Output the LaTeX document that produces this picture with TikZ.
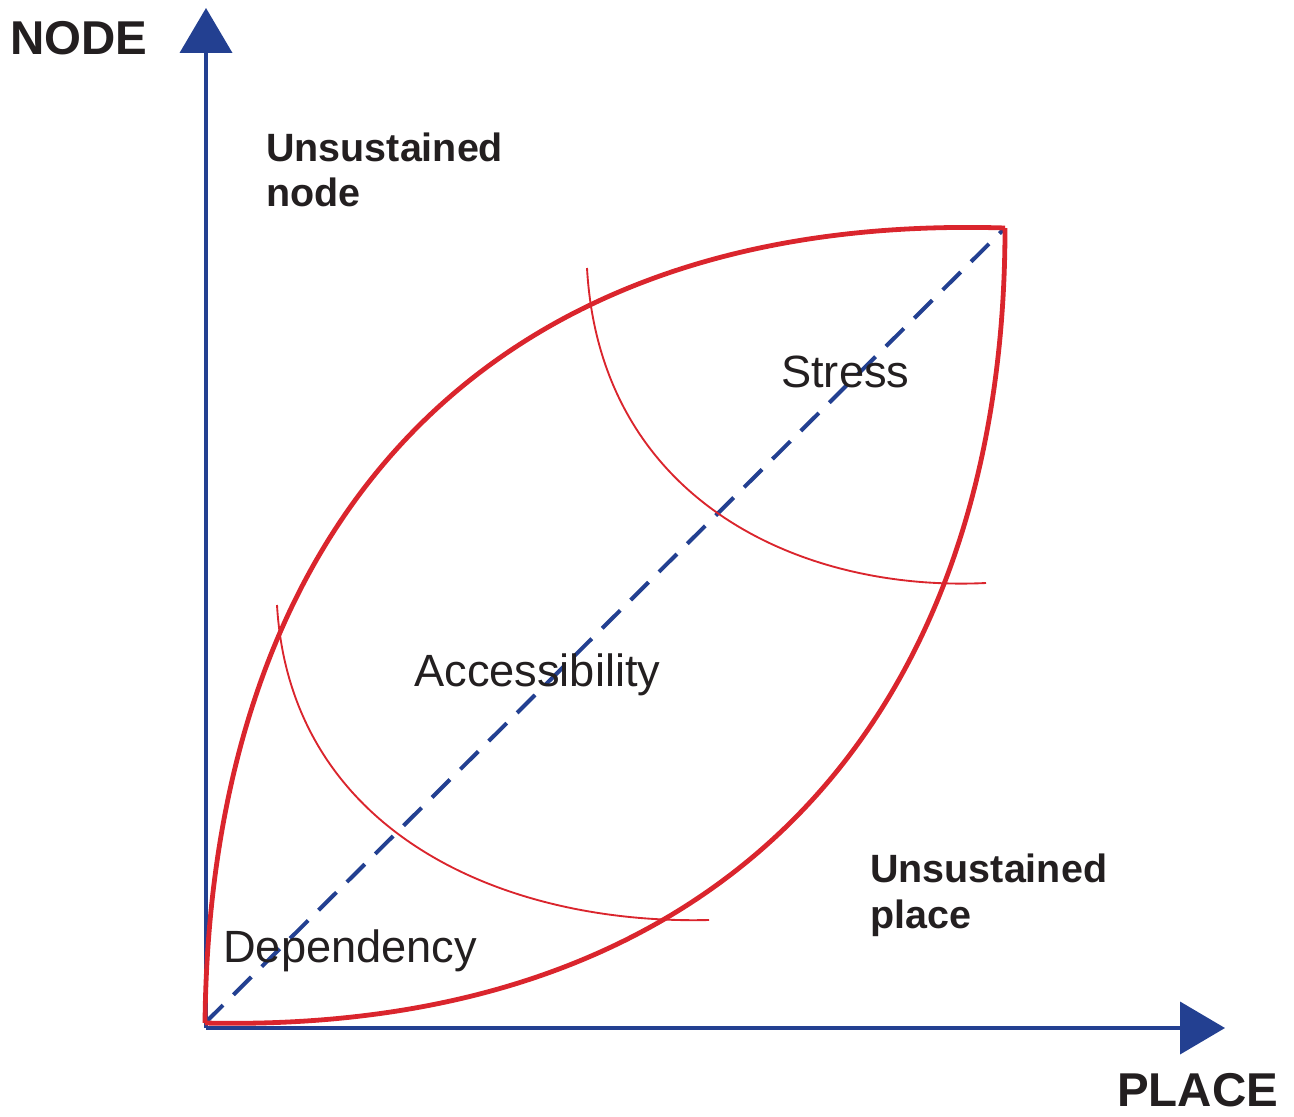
\documentclass[tikz,border=0pt]{standalone}
\usepackage{fontspec}
\setmainfont{Liberation Sans}
\usetikzlibrary{arrows.meta}
\definecolor{navy}{RGB}{35,64,145}
\definecolor{lensred}{RGB}{218,37,45}
\definecolor{ink}{RGB}{35,31,32}
\begin{document}
\begin{tikzpicture}[x=0.75pt,y=-0.75pt,
  axis/.style={draw=navy,line width=3pt,-{Triangle[length=33.75pt,width=39pt]}},
  lens/.style={draw=lensred,line width=3.6pt,line join=round},
  band/.style={draw=lensred,line width=1.4pt},
  diag/.style={draw=navy,line width=3pt,dash pattern=on 19pt off 11pt},
  bigbold/.style={inner sep=0pt,anchor=base west,text=ink,font=\fontsize{35.6}{42}\selectfont\bfseries},
  zonebold/.style={inner sep=0pt,anchor=base west,text=ink,align=left,font=\fontsize{29.6}{34}\selectfont\bfseries},
  zone/.style={inner sep=0pt,anchor=base west,text=ink,font=\fontsize{33.9}{40}\selectfont}]
\useasboundingbox (0,0) rectangle (1294,1116);
% axes
\coordinate (O) at (206,1028);
\coordinate (ytip) at (206,8);
\coordinate (xtip) at (1225,1028);
\draw[axis] (O) -- (ytip);
\draw[axis] (O) -- (xtip);
% lens
\coordinate (A) at (205,1023);
\coordinate (B) at (1005,228);
\draw[diag] (A) -- (B);
\draw[lens] (A) .. controls (210,525) and (485,212) .. (B);
\draw[lens] (A) .. controls (740,1035) and (1005,700) .. (B);
% band arcs
\coordinate (s1) at (587,268);
\coordinate (e1) at (986,583);
\coordinate (s2) at (277,605);
\coordinate (e2) at (709,920);
\draw[band] (s1) .. controls (600,500) and (800,592) .. (e1);
\draw[band] (s2) .. controls (290,830) and (500,925) .. (e2);
% labels
\node[bigbold] (node) at (10,55) {NODE};
\node[bigbold] (place) at (1117,1106) {PLACE};
\node[zonebold] (un) at (266,207) {Unsustained\\node};
\node[zonebold] (up) at (870,928) {Unsustained\\place};
\node[zone] (stress) at (781,387) {Stress};
\node[zone] (acc) at (414,686) {Accessibility};
\node[zone] (dep) at (223,962) {Dependency};
\end{tikzpicture}
\end{document}
